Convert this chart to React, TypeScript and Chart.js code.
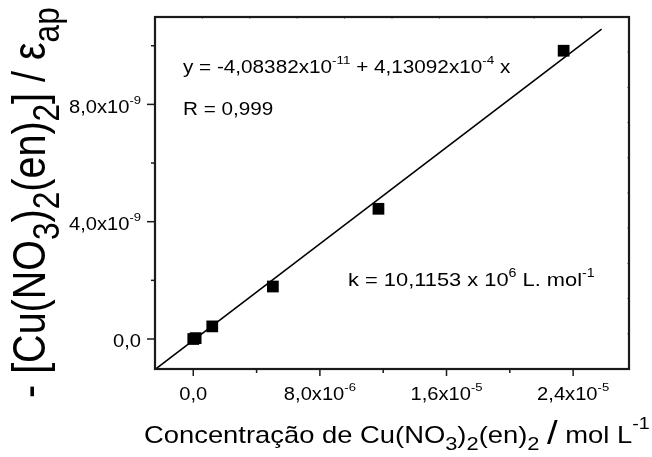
import React, { useEffect, useRef } from "react";
import { Chart, registerables } from "chart.js";

Chart.register(...registerables);

// ---- data ----
const concX = [0, 0.15e-6, 1.2e-6, 5.03e-6, 11.7e-6, 23.4e-6];
const ratioY = [0, 0.03e-9, 0.43e-9, 1.79e-9, 4.44e-9, 9.83e-9];

// fitted line end points (y = -4,08382e-11 + 4,13092e-4 x)
const fitX = [-2.42e-6, 2.58e-5];
const fitY = [-1.04e-9, 1.057e-8];

// axis ranges
const xRange = [-2.418e-6, 2.753e-5];
const yRange = [-1.023e-9, 1.098e-8];

// ticks
const xTickValues = [0, 8e-6, 1.6e-5, 2.4e-5];
const xTickMant = ["0,0", "8,0x10", "1,6x10", "2,4x10"];
const xTickExp = ["", "-6", "-5", "-5"];
const xMinorValues = [4e-6, 1.2e-5, 2.0e-5];

const yTickValues = [0, 4e-9, 8e-9];
const yTickMant = ["0,0", "4,0x10", "8,0x10"];
const yTickExp = ["", "-9", "-9"];
const yMinorValues = [2e-9, 6e-9, 1e-8];

// texts
type Seg = [string, string];
const eqSegs: Seg[] = [["y = -4,08382x10", "n"], ["-11", "sup"], [" + 4,13092x10", "n"], ["-4", "sup"], [" x", "n"]];
const rSegs: Seg[] = [["R = 0,999", "n"]];
const kSegs: Seg[] = [["k = 10,1153 x 10", "n"], ["6", "sup"], [" L. mol", "n"], ["-1", "sup"]];
const xTitleSegs: Seg[] = [
  ["Concentração de Cu(NO", "n"], ["3", "sub"], [")", "n"], ["2", "sub"], ["(en)", "n"], ["2", "sub"],
  [" ", "n"], ["/", "big"], [" mol L", "n"], ["-1", "supT"],
];
const yTitleSegs: Seg[] = [
  ["- [Cu(NO", "n"], ["3", "sub"], [")", "n"], ["2", "sub"], ["(en)", "n"], ["2", "sub"], ["] / ε", "n"], ["ap", "sub"],
];

const FONT = '"Liberation Sans", Arial, Helvetica, sans-serif';
const SX = 1.15;
const SCALE: Record<string, number> = { n: 1, sup: 0.65, supT: 0.72, sub: 0.8, big: 1.4 };
const OFFSET: Record<string, number> = { n: 0, sup: -0.5, supT: -0.6, sub: 0.3, big: 0.06 };

function drawRich(ctx: CanvasRenderingContext2D, segs: Seg[], size: number, align: string) {
  const widths = segs.map(([t, k]) => {
    ctx.font = `${size * SCALE[k]}px ${FONT}`;
    return ctx.measureText(t).width;
  });
  const total = widths.reduce((a, b) => a + b, 0);
  let cx = align === "right" ? -total : align === "center" ? -total / 2 : 0;
  segs.forEach(([t, k], i) => {
    ctx.font = `${size * SCALE[k]}px ${FONT}`;
    ctx.fillText(t, cx, OFFSET[k] * size);
    cx += widths[i];
  });
}

function textAt(ctx: CanvasRenderingContext2D, segs: Seg[], x: number, y: number, size: number, align: string) {
  ctx.save();
  ctx.translate(x, y);
  ctx.scale(SX, 1);
  drawRich(ctx, segs, size, align);
  ctx.restore();
}

const decor = {
  id: "decor",
  afterDatasetsDraw(chart: any) {
    const { ctx, chartArea: a, scales } = chart;
    const xs = scales.x;
    const ys = scales.y;
    ctx.save();
    ctx.fillStyle = "#000";
    ctx.textAlign = "left";
    ctx.textBaseline = "alphabetic";

    // tiny inner ticks on top and right
    ctx.strokeStyle = "#999";
    ctx.lineWidth = 1;
    for (let i = 1; i < 10; i++) {
      const px = a.left + ((a.right - a.left) * i) / 10;
      ctx.beginPath(); ctx.moveTo(px, a.top); ctx.lineTo(px, a.top + 2); ctx.stroke();
      const py = a.top + ((a.bottom - a.top) * i) / 10;
      ctx.beginPath(); ctx.moveTo(a.right, py); ctx.lineTo(a.right - 2, py); ctx.stroke();
    }

    // frame
    ctx.strokeStyle = "#1a1a1a";
    ctx.lineWidth = 2.2;
    ctx.strokeRect(a.left, a.top, a.right - a.left, a.bottom - a.top);

    // x ticks
    ctx.lineWidth = 1.5;
    xTickValues.forEach((v) => {
      const px = xs.getPixelForValue(v);
      ctx.beginPath(); ctx.moveTo(px, a.bottom); ctx.lineTo(px, a.bottom + 7); ctx.stroke();
    });
    xMinorValues.forEach((v) => {
      const px = xs.getPixelForValue(v);
      ctx.beginPath(); ctx.moveTo(px, a.bottom); ctx.lineTo(px, a.bottom + 4); ctx.stroke();
    });
    // y ticks
    yTickValues.forEach((v) => {
      const py = ys.getPixelForValue(v);
      ctx.beginPath(); ctx.moveTo(a.left, py); ctx.lineTo(a.left - 8, py); ctx.stroke();
    });
    yMinorValues.forEach((v) => {
      const py = ys.getPixelForValue(v);
      ctx.beginPath(); ctx.moveTo(a.left, py); ctx.lineTo(a.left - 4, py); ctx.stroke();
    });

    // tick labels
    xTickValues.forEach((v, i) => {
      const px = xs.getPixelForValue(v);
      const segs: Seg[] = [[xTickMant[i], "n"]];
      if (xTickExp[i]) segs.push([xTickExp[i], "sup"]);
      textAt(ctx, segs, px, a.bottom + 31, 17.5, "center");
    });
    yTickValues.forEach((v, i) => {
      const py = ys.getPixelForValue(v);
      const segs: Seg[] = [[yTickMant[i], "n"]];
      if (yTickExp[i]) segs.push([yTickExp[i], "sup"]);
      textAt(ctx, segs, a.left - 14, py + 8.5, 17.5, "right");
    });

    // annotations
    textAt(ctx, eqSegs, 183, 73, 18, "left");
    textAt(ctx, rSegs, 183, 115, 18, "left");
    textAt(ctx, kSegs, 348, 286, 19, "left");

    // axis titles
    textAt(ctx, xTitleSegs, 144, 443, 23.8, "left");

    ctx.save();
    ctx.translate(45, 398);
    ctx.rotate(-Math.PI / 2);
    ctx.scale(1, SX);
    drawRich(ctx, yTitleSegs, 39.5, "left");
    ctx.restore();

    ctx.restore();
  },
};

export default function App() {
  const ref = useRef<HTMLCanvasElement | null>(null);
  useEffect(() => {
    if (!ref.current) return;
    const chart = new Chart(ref.current, {
      type: "scatter",
      data: {
        datasets: [
          {
            type: "line",
            data: fitX.map((x, i) => ({ x, y: fitY[i] })),
            borderColor: "#000",
            borderWidth: 1.6,
            pointRadius: 0,
            fill: false,
          } as any,
          {
            data: concX.map((x, i) => ({ x, y: ratioY[i] })),
            pointStyle: "rect",
            pointRadius: 8.3,
            pointHoverRadius: 8.3,
            backgroundColor: "#000",
            borderColor: "#000",
            borderWidth: 0,
          },
        ],
      },
      options: {
        animation: false,
        responsive: false,
        devicePixelRatio: 1,
        layout: { padding: { left: 155, top: 17, right: 23, bottom: 88 } },
        plugins: { legend: { display: false }, tooltip: { enabled: false } },
        events: [],
        scales: {
          x: { type: "linear", min: xRange[0], max: xRange[1], display: false },
          y: { type: "linear", min: yRange[0], max: yRange[1], display: false },
        },
      },
      plugins: [decor],
    });
    return () => chart.destroy();
  }, []);
  return (
    <div style={{ position: "absolute", left: 0, top: 0, width: 652, height: 457, background: "#fff" }}>
      <canvas ref={ref} width={652} height={457} style={{ display: "block" }} />
    </div>
  );
}
